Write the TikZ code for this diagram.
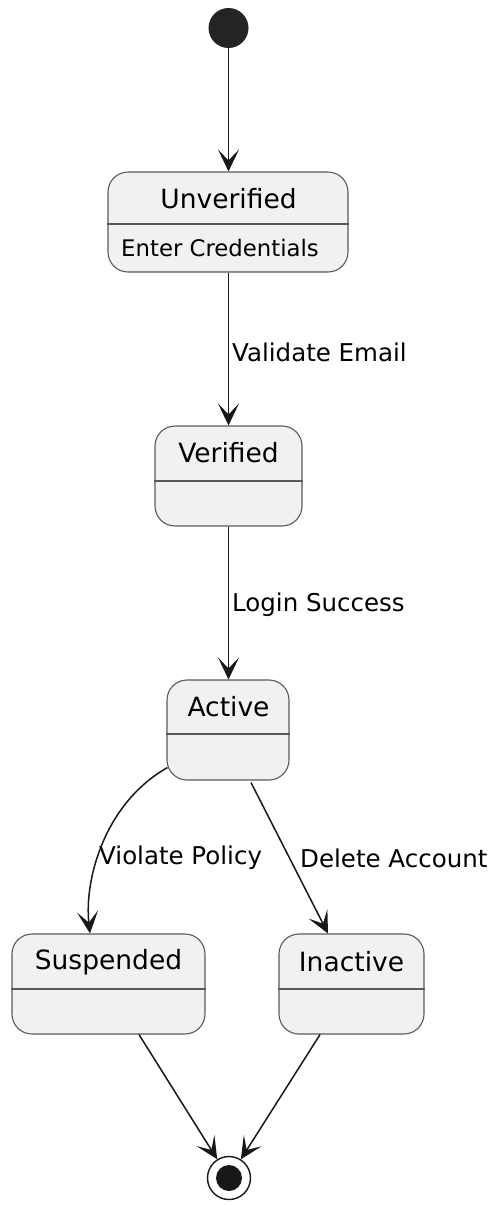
\documentclass[tikz,border=0pt]{standalone}
\usepackage{fontspec}
\setmainfont{DejaVu Sans}
\usetikzlibrary{arrows.meta,calc}
\definecolor{boxfill}{HTML}{F1F1F1}
\definecolor{boxline}{HTML}{5A5A5A}
\definecolor{ink}{HTML}{181818}
\begin{document}
\begin{tikzpicture}[x=1pt,y=-1pt,
  statebox/.style={draw=boxline, line width=1.1pt, fill=boxfill, rounded corners=20pt, minimum height=100pt, inner sep=0pt},
  sepline/.style={draw=boxline, line width=1.1pt},
  title/.style={font=\fontsize{26.5}{30}\selectfont, text=black, inner sep=0pt},
  lbl/.style={font=\fontsize{24.5}{28}\selectfont, text=black, inner sep=0pt, anchor=west},
  arr/.style={draw=ink, line width=1.5pt, -{Stealth[length=22pt, width=21pt, inset=11pt]}}]
\useasboundingbox (0,0) rectangle (497,1205);

% start / end
\node[circle, fill=ink!95, minimum size=40pt, inner sep=0pt] (start) at (228.5,28) {};
\node[circle, draw=ink, line width=1.4pt, fill=white, minimum size=43pt, inner sep=0pt] (end) at (229,1178) {};
\node[circle, fill=ink, minimum size=26pt, inner sep=0pt] (endin) at (229,1178) {};

% states
\node[statebox, minimum width=240pt] (unv) at (228,222) {};
\draw[sepline] (unv.west |- 0,224) -- (unv.east |- 0,224);
\node[title] (unvt) at (228.5,199) {Unverified};
\node[font=\fontsize{22.8}{26}\selectfont, inner sep=0pt, anchor=west] (unvd) at (121,248) {Enter Credentials};

\node[statebox, minimum width=147pt] (ver) at (228.5,476) {};
\draw[sepline] (ver.west |- 0,481) -- (ver.east |- 0,481);
\node[title] (vert) at (228.5,453) {Verified};

\node[statebox, minimum width=122pt] (act) at (228,730) {};
\draw[sepline] (act.west |- 0,734) -- (act.east |- 0,734);
\node[title] (actt) at (228.5,707) {Active};

\node[statebox, minimum width=193pt] (sus) at (108.5,984) {};
\draw[sepline] (sus.west |- 0,989) -- (sus.east |- 0,989);
\node[title] (sust) at (108.5,962) {Suspended};

\node[statebox, minimum width=145pt] (ina) at (351.5,984) {};
\draw[sepline] (ina.west |- 0,989) -- (ina.east |- 0,989);
\node[title] (inat) at (351.5,962) {Inactive};

% transitions
\draw[arr] (start) -- (unv.north -| start);
\draw[arr] (unv.south -| start) -- (ver.north -| start);
\node[lbl] (l1) at (232,352) {Validate Email};
\draw[arr] (ver.south -| start) -- (act.north -| start);
\node[lbl] (l2) at (232,605) {Login Success};

\coordinate (a1) at ($(act.south west)+(1,-13)$);
\coordinate (s1) at ($(sus.north)+(-18.5,0)$);
\draw[arr] (a1) .. controls ($(a1)+(-62,35)$) and ($(s1)+(-6,-55)$) .. (s1);
\node[lbl] (l3) at (99,858) {Violate Policy};

\coordinate (a2) at ($(act.south)+(23,2)$);
\coordinate (i1) at ($(ina.north)+(-23.5,0)$);
\draw[arr] (a2) -- (i1);
\node[lbl] (l4) at (300,858) {Delete Account};

\draw[arr] ($(sus.south)+(30.5,0)$) -- (end);
\draw[arr] ($(ina.south)+(-31.5,0)$) -- (end);
\end{tikzpicture}
\end{document}
